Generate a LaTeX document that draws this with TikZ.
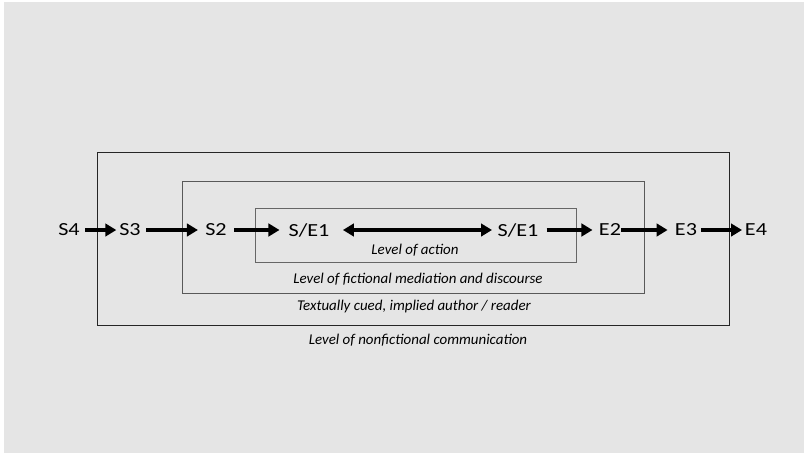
\documentclass[tikz,border=0pt]{standalone}
\usepackage{fontspec}
\setmainfont{Carlito}
\newfontfamily\agentfont[FakeStretch=1.2]{Carlito}
\usetikzlibrary{arrows.meta, positioning, calc}

\definecolor{bggray}{HTML}{E5E5E5}

\begin{document}
\begin{tikzpicture}[
    x=0.02cm, y=-0.02cm,
    agent/.style={font=\agentfont\fontsize{10.5}{12}\selectfont, text=black, inner sep=0pt},
    level/.style={font=\fontsize{8.5}{10}\selectfont\itshape, text=black, inner sep=0pt},
    arrow/.style={-{Triangle[length=0.22cm, width=0.25cm]}, line width=2.2pt, black},
    outerbox/.style={draw=black!85, line width=0.5pt},
    midbox/.style={draw=black!65, line width=0.5pt},
    innerbox/.style={draw=black!60, line width=0.5pt}
]

% Background
\fill[white] (0,0) rectangle (804,453);
\fill[bggray] (4,2) rectangle (804,453);
\useasboundingbox (0,0) rectangle (804,453);

% Nested levels
\draw[outerbox] (97,152) rectangle (729,325);
\draw[midbox] (182,181) rectangle (644,293);
\draw[innerbox] (255,208) rectangle (576,262);

% Senders and receivers
\node[agent] (s4) at (69,230) {S4};
\node[agent] (s3) at (130,230) {S3};
\node[agent] (s2) at (216,230) {S2};
\node[agent] (se1l) at (309,230) {S/E1};
\node[agent] (se1r) at (518,230) {S/E1};
\node[agent] (e2) at (610,230) {E2};
\node[agent] (e3) at (686,230) {E3};
\node[agent] (e4) at (756,230) {E4};

% Communication arrows
\draw[arrow, shorten <=3pt, shorten >=1.5pt] (s4) -- (s3);
\draw[arrow, shorten <=3pt, shorten >=4pt] (s3) -- (s2);
\draw[arrow, shorten <=4pt, shorten >=5pt] (s2) -- (se1l);
\draw[arrow, {Triangle[length=0.22cm, width=0.25cm]}-{Triangle[length=0.22cm, width=0.25cm]}, shorten <=7.5pt, shorten >=3pt] (se1l) -- (se1r);
\draw[arrow, shorten <=4.5pt, shorten >=3.5pt] (se1r) -- (e2);
\draw[arrow, shorten >=4pt] (e2) -- (e3);
\draw[arrow, shorten <=2pt, shorten >=1.5pt] (e3) -- (e4);

% Level labels
\node[level] (action) at (415,250) {Level of action};
\node[level] (mediation) at (418,279) {Level of fictional mediation and discourse};
\node[level] (implied) at (414,307) {Textually cued, implied author / reader};
\node[level] (nonfiction) at (418,340) {Level of nonfictional communication};

\end{tikzpicture}
\end{document}
